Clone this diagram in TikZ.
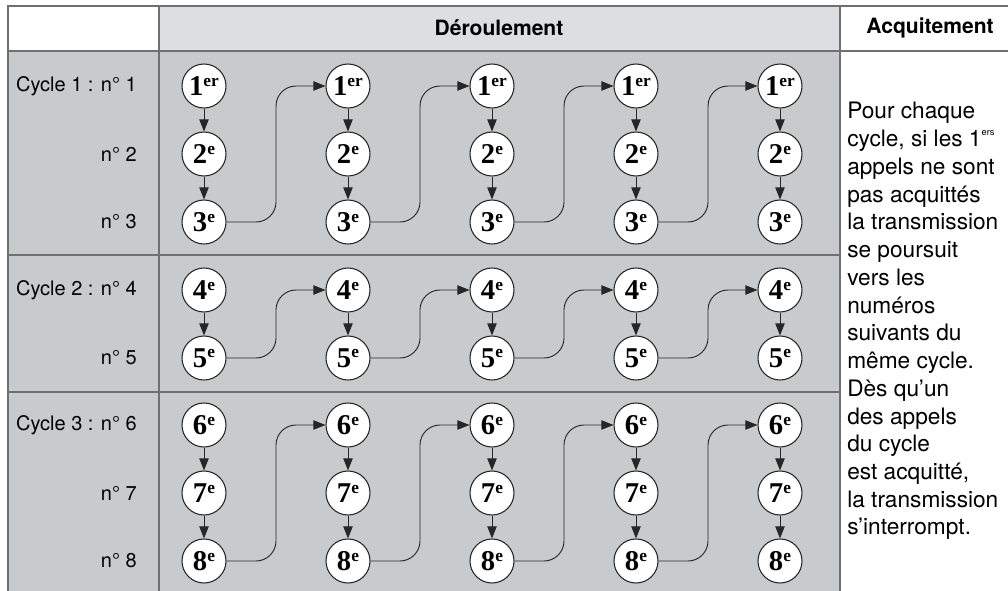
\documentclass[tikz,border=0pt]{standalone}
\usepackage{fontspec}
\setmainfont{Liberation Serif}
\setsansfont{TeX Gyre Heros}
\usepackage{tikz}
\usetikzlibrary{positioning, arrows.meta, calc}
\definecolor{cellgray}{RGB}{201,202,204}
\definecolor{headgray}{RGB}{221,222,224}
\definecolor{rulegray}{RGB}{112,112,112}
\tikzstyle{callnode} = [circle, draw=black!85, fill=white, line width=0.8pt, minimum size=33pt, inner sep=0pt, font=\bfseries\fontsize{21.5}{21.5}\selectfont]
\tikzstyle{arrow} = [line width=0.7pt, draw=black!85, -{Triangle[length=9pt,width=7pt]}]
\tikzstyle{link} = [arrow, rounded corners=15pt]
\tikzstyle{rule} = [rulegray, line width=1pt]
\newcommand{\rang}[2]{#1\raisebox{7pt}{\fontsize{13}{13}\selectfont #2}}

\begin{document}
\begin{tikzpicture}[x=0.75pt, y=-0.75pt,
label/.style={font=\sffamily\fontsize{15}{15}\selectfont, anchor=east, inner sep=0pt},
head/.style={font=\sffamily\bfseries\fontsize{15.8}{15.8}\selectfont}
]
\useasboundingbox (0,0) rectangle (1008,591);
\clip (0,0) rectangle (1008,591);
% cells
\fill[white] (0,0) rectangle (1008,591);
\fill[headgray] (159,6) rectangle (840,51);
\fill[cellgray] (8,51) rectangle (840,591);
% table rules
\draw[rule] (8,591) -- (8,6) -- (1020,6);
\draw[rule] (8,51) -- (1020,51);
\draw[rule] (159,6) -- (159,591);
\draw[rule] (840,6) -- (840,591);
\draw[rule] (8,255) -- (840,255);
\draw[rule] (8,392) -- (840,392);

\node[head] (deroul) at (499,28) {Déroulement};
\node[head] (acquit) at (930,28) {Acquitement};

\node[label] (la) at (137,86) {Cycle 1 : n° 1};
\node[label] (lb) at (137,154) {n° 2};
\node[label] (lc) at (137,222) {n° 3};
\node[label] (ld) at (137,290) {Cycle 2 : n° 4};
\node[label] (le) at (137,358) {n° 5};
\node[label] (lf) at (137,425) {Cycle 3 : n° 6};
\node[label] (lg) at (137,493) {n° 7};
\node[label] (lh) at (137,561) {n° 8};

% calls, one column per pass
\foreach \c/\x in {1/204, 2/348, 3/492, 4/636, 5/780} {
  \node[callnode] (a\c) at (\x,86) {\rang{1}{er}};
  \node[callnode] (b\c) at (\x,154) {\rang{2}{e}};
  \node[callnode] (c\c) at (\x,222) {\rang{3}{e}};
  \node[callnode] (d\c) at (\x,290) {\rang{4}{e}};
  \node[callnode] (e\c) at (\x,358) {\rang{5}{e}};
  \node[callnode] (f\c) at (\x,425) {\rang{6}{e}};
  \node[callnode] (g\c) at (\x,493) {\rang{7}{e}};
  \node[callnode] (h\c) at (\x,561) {\rang{8}{e}};
  \draw[arrow] (a\c) -- (b\c);
  \draw[arrow] (b\c) -- (c\c);
  \draw[arrow] (d\c) -- (e\c);
  \draw[arrow] (f\c) -- (g\c);
  \draw[arrow] (g\c) -- (h\c);
}

% back to the first number of the cycle
\foreach \c/\n in {1/2, 2/3, 3/4, 4/5} {
  \draw[link] (c\c.east) -- ($(c\c.east)!0.5!(c\n.west)$) |- (a\n.west);
  \draw[link] (e\c.east) -- ($(e\c.east)!0.5!(e\n.west)$) |- (d\n.west);
  \draw[link] (h\c.east) -- ($(h\c.east)!0.5!(h\n.west)$) |- (f\n.west);
}

\node[anchor=base west, inner sep=0pt] (expl) at (847,119)
{\parbox[t]{300pt}{\sffamily\fontsize{17}{20.8}\selectfont\raggedright
Pour chaque\\
cycle, si les 1\raisebox{0.5em}{\fontsize{7}{7}\selectfont ers}\\
appels ne sont\\
pas acquittés\\
la transmission\\
se poursuit\\
vers les\\
numéros\\
suivants du\\
même cycle.\\
Dès qu’un\\
des appels\\
du cycle\\
est acquitté,\\
la transmission\\
s’interrompt.}};
\end{tikzpicture}
\end{document}
